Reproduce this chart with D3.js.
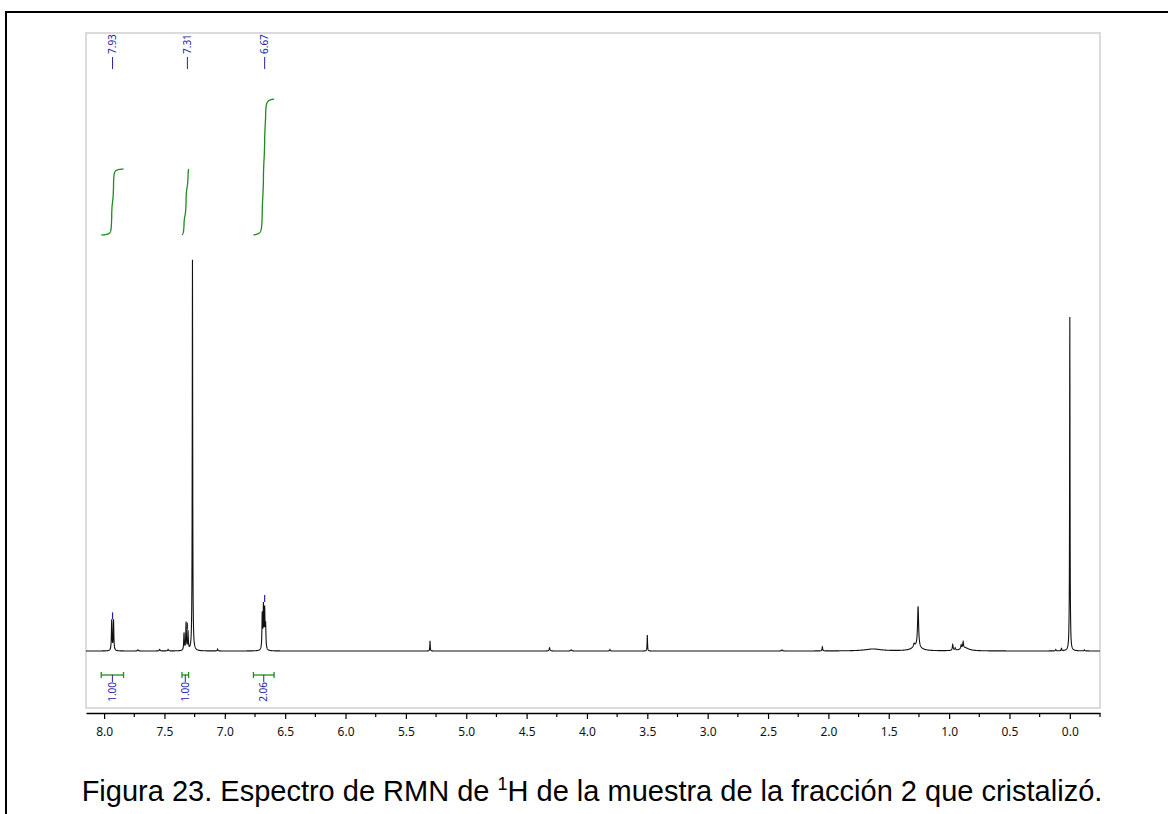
<!DOCTYPE html>
<html>
<head>
<meta charset="utf-8">
<script src="https://cdn.jsdelivr.net/npm/d3@7"></script>
<style>
  body { margin: 0; background: #fff; }
  .tick text { font-family: "Noto Sans", sans-serif; font-size: 12px; fill: #111; }
</style>
</head>
<body>
<div id="chart"></div>
<script>
const peakPpm    = [7.937, 7.922, 7.338, 7.321, 7.305, 7.268, 7.72, 7.54, 7.47, 7.06,
                    6.690, 6.680, 6.670, 6.662, 5.30, 4.31, 4.13, 3.81, 3.50, 2.385, 2.05,
                    1.63, 1.29, 1.27, 1.257, 0.97, 0.95, 0.90, 0.884, 0.87,
                    0.116, 0.069, 0.006, 0.0, -0.006, -0.12];
const peakHeight = [7.8, 7.8, 4.4, 7.1, 4.7, 100, 0.3, 0.4, 0.4, 0.5,
                    9.0, 10.8, 9.8, 6.0, 2.6, 0.8, 0.3, 0.4, 4.1, 0.3, 1.0,
                    0.5, 0.8, 1.2, 10.3, 1.5, 0.6, 1.0, 1.6, 0.8,
                    0.4, 0.6, 1.0, 85.2, 1.0, 0.3];
const peakWidth  = [0.003, 0.003, 0.003, 0.003, 0.003, 0.0022, 0.004, 0.004, 0.004, 0.003,
                    0.003, 0.003, 0.003, 0.003, 0.002, 0.004, 0.005, 0.003, 0.002, 0.004, 0.003,
                    0.08, 0.006, 0.04, 0.005, 0.004, 0.004, 0.004, 0.004, 0.04,
                    0.003, 0.003, 0.002, 0.002, 0.002, 0.003];

// etiquetas de picos
const labelPpm = [7.93, 7.31, 6.67];

// integrales
const integralFrom  = [8.024, 7.355, 6.763];
const integralTo    = [7.839, 7.300, 6.592];
const integralValue = [1.00, 1.00, 2.06];

// eje
const majorTicks = [8.0, 7.5, 7.0, 6.5, 6.0, 5.5, 5.0, 4.5, 4.0, 3.5, 3.0, 2.5, 2.0, 1.5, 1.0, 0.5, 0.0];
const minorTicks = [7.75, 7.25, 6.75, 6.25, 5.75, 5.25, 4.75, 4.25, 3.75, 3.25, 2.75, 2.25, 1.75, 1.25, 0.75, 0.25, -0.25];

const blue = "#2323a3";
const green = "#1e8c1e";

const svg = d3.select("#chart").append("svg")
  .attr("width", 1168)
  .attr("height", 814);

// marco de la figura
svg.append("line").attr("x1", 6).attr("y1", 12).attr("x2", 1168).attr("y2", 12)
  .attr("stroke", "#000").attr("stroke-width", 2);
svg.append("line").attr("x1", 6).attr("y1", 11).attr("x2", 6).attr("y2", 814)
  .attr("stroke", "#000").attr("stroke-width", 2);

// marco del grafico
svg.append("rect")
  .attr("x", 86).attr("y", 33)
  .attr("width", 1014).attr("height", 675)
  .attr("fill", "none")
  .attr("stroke", "#cfcfcf")
  .attr("stroke-width", 1.5);

const x = d3.scaleLinear().domain([8.15, -0.25]).range([86, 1100]);
const y = d3.scaleLinear().domain([0, 100]).range([651, 260]);

function intensity(p) {
  let s = 0;
  for (let i = 0; i < peakPpm.length; i++) {
    const d = p - peakPpm[i], w = peakWidth[i];
    s += peakHeight[i] * w * w / (d * d + w * w);
  }
  return s;
}

// rejilla en ppm + centros de picos
const grid = d3.range(8.15, -0.25, -0.001).concat(peakPpm);
grid.sort((a, b) => b - a);
const spectrum = grid.map(p => [p, intensity(p)]);

const line = d3.line()
  .x(d => x(d[0]))
  .y(d => y(d[1]));

svg.append("path")
  .datum(spectrum)
  .attr("d", line)
  .attr("fill", "none")
  .attr("stroke", "#111")
  .attr("stroke-width", 1.1);

// marcadores de pico y etiquetas
labelPpm.forEach(function(p) {
  const local = spectrum.filter(d => Math.abs(d[0] - p) < 0.01);
  const top = d3.max(local, d => d[1]);
  svg.append("line")
    .attr("x1", x(p)).attr("x2", x(p))
    .attr("y1", y(top) - 7).attr("y2", y(top))
    .attr("stroke", blue).attr("stroke-width", 1.2);

  svg.append("line")
    .attr("x1", x(p)).attr("x2", x(p))
    .attr("y1", 57).attr("y2", 69)
    .attr("stroke", blue).attr("stroke-width", 1);

  svg.append("text")
    .attr("transform", `translate(${x(p)},54) rotate(-90)`)
    .attr("dy", "0.35em")
    .attr("font-family", "Noto Sans, sans-serif")
    .attr("font-size", "10px")
    .attr("fill", blue)
    .text(p.toFixed(2));
});

// curvas de integral
const yInt = d3.scaleLinear().domain([0, 1]).range([235, 169]);
integralValue.forEach(function(v, i) {
  const seg = spectrum.filter(d => d[0] <= integralFrom[i] && d[0] >= integralTo[i]);
  let acc = 0;
  const cum = seg.map(d => { acc += d[1]; return [d[0], acc]; });
  const total = acc;
  const intLine = d3.line()
    .x(d => x(d[0]))
    .y(d => yInt(v * d[1] / total));
  svg.append("path")
    .datum(cum)
    .attr("d", intLine)
    .attr("fill", "none")
    .attr("stroke", green)
    .attr("stroke-width", 1.3);

  // barra de integral abajo
  const x1 = x(integralFrom[i]), x2 = x(integralTo[i]), xc = (x1 + x2) / 2;
  svg.append("line").attr("x1", x1).attr("x2", x2).attr("y1", 675).attr("y2", 675)
    .attr("stroke", green).attr("stroke-width", 1.3);
  [x1, x2].forEach(xx => svg.append("line")
    .attr("x1", xx).attr("x2", xx).attr("y1", 672).attr("y2", 678)
    .attr("stroke", green).attr("stroke-width", 1.3));
  svg.append("line").attr("x1", xc).attr("x2", xc).attr("y1", 675).attr("y2", 682)
    .attr("stroke", blue).attr("stroke-width", 1);
  svg.append("text")
    .attr("transform", `translate(${xc},682) rotate(-90)`)
    .attr("text-anchor", "end")
    .attr("dy", "0.35em")
    .attr("font-family", "Noto Sans, sans-serif")
    .attr("font-size", "10px")
    .attr("fill", blue)
    .text(v.toFixed(2));
});

// eje x
const axis = svg.append("g")
  .attr("transform", "translate(0,713)")
  .call(d3.axisBottom(x)
    .tickValues(majorTicks)
    .tickFormat(d3.format(".1f"))
    .tickSize(6)
    .tickPadding(8)
    .tickSizeOuter(0));
axis.select(".domain").attr("stroke", "#000").attr("stroke-width", 1.3);
axis.selectAll(".tick line").attr("stroke", "#000").attr("stroke-width", 1.2);

svg.append("g")
  .attr("transform", "translate(0,713)")
  .selectAll("line")
  .data(minorTicks)
  .enter().append("line")
  .attr("x1", d => x(d)).attr("x2", d => x(d))
  .attr("y1", 0).attr("y2", 4)
  .attr("stroke", "#000").attr("stroke-width", 1.2);

// leyenda de figura
const caption = svg.append("text")
  .attr("x", 592)
  .attr("y", 801)
  .attr("text-anchor", "middle")
  .attr("font-family", "Liberation Sans, Arial, sans-serif")
  .attr("font-size", "29px")
  .attr("fill", "#000");
caption.append("tspan").text("Figura 23. Espectro de RMN de ");
caption.append("tspan").attr("font-size", "18px").attr("dy", -11).text("1");
caption.append("tspan").attr("dy", 11).text("H de la muestra de la fracción 2 que cristalizó.");
</script>
</body>
</html>
